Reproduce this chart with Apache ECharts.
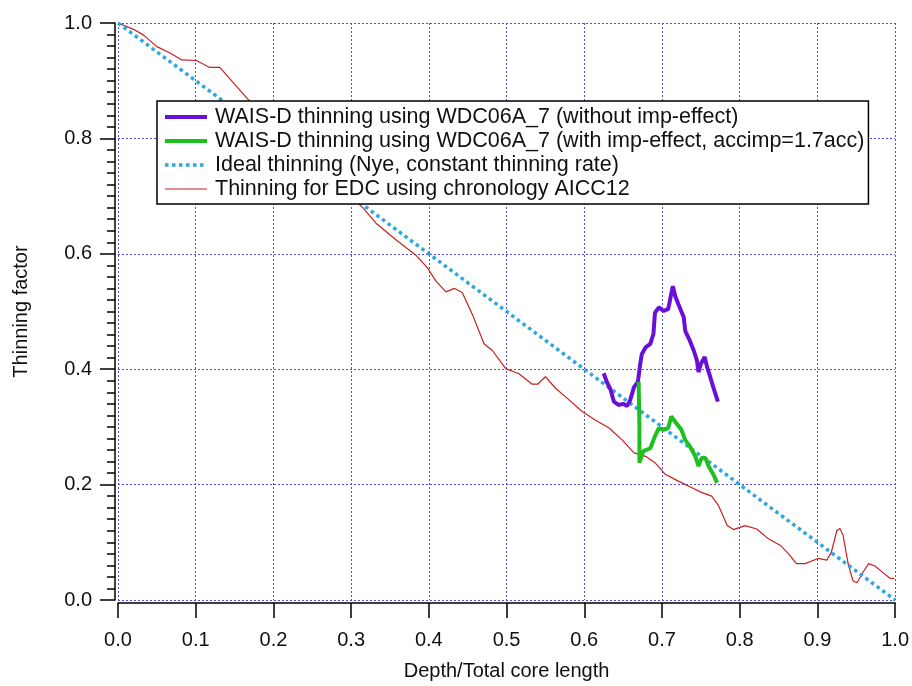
<!DOCTYPE html>
<html><head><meta charset="utf-8">
<script src="https://cdn.jsdelivr.net/npm/echarts@6/dist/echarts.min.js"></script>
<style>html,body{margin:0;padding:0;background:#fff}#c{width:912px;height:686px}</style>
</head><body><div id="c"></div>
<script>
const xTicks = [0,0.1,0.2,0.3,0.4,0.5,0.6,0.7,0.8,0.9,1.0];
const yTicks = [0,0.2,0.4,0.6,0.8,1.0];
const seriesNames = [
  'WAIS-D thinning using WDC06A_7 (without imp-effect)',
  'WAIS-D thinning using WDC06A_7 (with imp-effect, accimp=1.7acc)',
  'Ideal thinning (Nye, constant thinning rate)',
  'Thinning for EDC using chronology AICC12'
];
const waisNoImp = [[0.625,0.393],[0.629,0.378],[0.634,0.364],[0.638,0.344],[0.644,0.338],[0.650,0.340],[0.655,0.336],[0.659,0.346],[0.664,0.369],[0.669,0.378],[0.672,0.409],[0.674,0.426],[0.679,0.438],[0.685,0.444],[0.689,0.461],[0.691,0.498],[0.696,0.507],[0.702,0.501],[0.708,0.504],[0.711,0.524],[0.714,0.544],[0.717,0.527],[0.721,0.513],[0.728,0.490],[0.730,0.466],[0.736,0.449],[0.741,0.432],[0.745,0.415],[0.747,0.395],[0.750,0.409],[0.755,0.421],[0.758,0.404],[0.762,0.387],[0.766,0.369],[0.772,0.344]];
const waisImp = [[0.670,0.378],[0.671,0.300],[0.671,0.238],[0.676,0.258],[0.685,0.263],[0.691,0.284],[0.696,0.298],[0.702,0.295],[0.708,0.298],[0.712,0.318],[0.717,0.309],[0.725,0.295],[0.730,0.277],[0.736,0.266],[0.743,0.249],[0.747,0.232],[0.751,0.246],[0.756,0.246],[0.760,0.232],[0.766,0.218],[0.771,0.203]];
const ideal = [[0,1],[1,0]];
const edc = [[0,1.0],[0.020,0.989],[0.033,0.979],[0.050,0.959],[0.067,0.948],[0.082,0.936],[0.101,0.935],[0.118,0.923],[0.131,0.923],[0.165,0.871],[0.18,0.85],[0.22,0.79],[0.26,0.745],[0.29,0.71],[0.315,0.680],[0.332,0.653],[0.358,0.624],[0.383,0.598],[0.398,0.576],[0.409,0.553],[0.422,0.534],[0.433,0.540],[0.443,0.533],[0.456,0.495],[0.471,0.444],[0.482,0.432],[0.499,0.401],[0.516,0.392],[0.533,0.374],[0.540,0.374],[0.550,0.387],[0.563,0.367],[0.576,0.352],[0.597,0.327],[0.614,0.312],[0.632,0.298],[0.649,0.277],[0.664,0.255],[0.679,0.249],[0.691,0.238],[0.704,0.218],[0.721,0.206],[0.738,0.195],[0.750,0.187],[0.764,0.180],[0.773,0.163],[0.784,0.129],[0.792,0.122],[0.807,0.129],[0.822,0.123],[0.837,0.106],[0.852,0.095],[0.863,0.080],[0.873,0.063],[0.884,0.063],[0.901,0.072],[0.912,0.069],[0.918,0.083],[0.925,0.120],[0.929,0.124],[0.933,0.112],[0.940,0.060],[0.946,0.033],[0.951,0.030],[0.959,0.049],[0.966,0.063],[0.974,0.059],[0.982,0.050],[0.993,0.038],[0.999,0.037]];

const colors = {purple:'#6a0fd8', green:'#1ec01e', cyan:'#2ea8e0', red:'#c8201e'};
const gridLine = {show:true, lineStyle:{color:'#4d4de0', type:[2,2], width:1}};
const font = 'Arial, "Liberation Sans", sans-serif';
const chart = echarts.init(document.getElementById('c'), null, {renderer:'canvas'});
chart.setOption({
  animation:false,
  backgroundColor:'#fff',
  grid:{left:118, right:15, top:23, bottom:81, containLabel:false},
  legend:{
    orient:'vertical', left:157, top:101,
    backgroundColor:'#fff', borderColor:'#000', borderWidth:1.5,
    padding:[4,4,3,6], itemGap:0, itemWidth:42, itemHeight:14,
    itemStyle:{opacity:0},
    textStyle:{fontFamily:font, fontSize:21.5, lineHeight:24, color:'#111', padding:[0,0,0,3]},
    data:[
      {name:seriesNames[0], lineStyle:{width:4, color:colors.purple}},
      {name:seriesNames[1], lineStyle:{width:4, color:colors.green}},
      {name:seriesNames[2], lineStyle:{width:3.5, color:colors.cyan, type:[3.5,3.5]}},
      {name:seriesNames[3], lineStyle:{width:1.2, color:colors.red}}
    ]
  },
  xAxis:{
    type:'value', min:xTicks[0], max:xTicks[xTicks.length-1], interval:0.1, offset:3,
    name:'Depth/Total core length', nameLocation:'middle', nameGap:58,
    nameTextStyle:{fontFamily:font, fontSize:20, color:'#111'},
    axisLine:{show:true, onZero:false, lineStyle:{color:'#000', width:1.5}},
    axisTick:{show:true, length:15, lineStyle:{color:'#000', width:1.5}},
    axisLabel:{fontFamily:font, fontSize:20, color:'#111', margin:27, formatter:v=>v.toFixed(1)},
    splitLine:gridLine
  },
  yAxis:{
    type:'value', min:yTicks[0], max:yTicks[yTicks.length-1], interval:0.2, offset:3,
    name:'Thinning factor', nameLocation:'middle', nameGap:84, nameRotate:90,
    nameTextStyle:{fontFamily:font, fontSize:20, color:'#111'},
    axisLine:{show:true, onZero:false, lineStyle:{color:'#000', width:1.5}},
    axisTick:{show:true, length:15, lineStyle:{color:'#000', width:1.5}},
    minorTick:{show:true, splitNumber:10, length:8, lineStyle:{color:'#000', width:1.5}},
    axisLabel:{fontFamily:font, fontSize:20, color:'#111', margin:23, formatter:v=>v.toFixed(1)},
    splitLine:gridLine
  },
  series:[
    {name:seriesNames[3], type:'line', data:edc, symbol:'none', z:2, lineStyle:{color:colors.red, width:1.2}, itemStyle:{color:colors.red}},
    {name:seriesNames[2], type:'line', data:ideal, symbol:'none', z:3, lineStyle:{color:colors.cyan, width:3.5, type:[3.5,3.5]}, itemStyle:{color:colors.cyan}},
    {name:seriesNames[0], type:'line', data:waisNoImp, symbol:'none', z:4, lineStyle:{color:colors.purple, width:4}, itemStyle:{color:colors.purple}},
    {name:seriesNames[1], type:'line', data:waisImp, symbol:'none', z:5, lineStyle:{color:colors.green, width:4}, itemStyle:{color:colors.green}}
  ]
});
</script></body></html>
